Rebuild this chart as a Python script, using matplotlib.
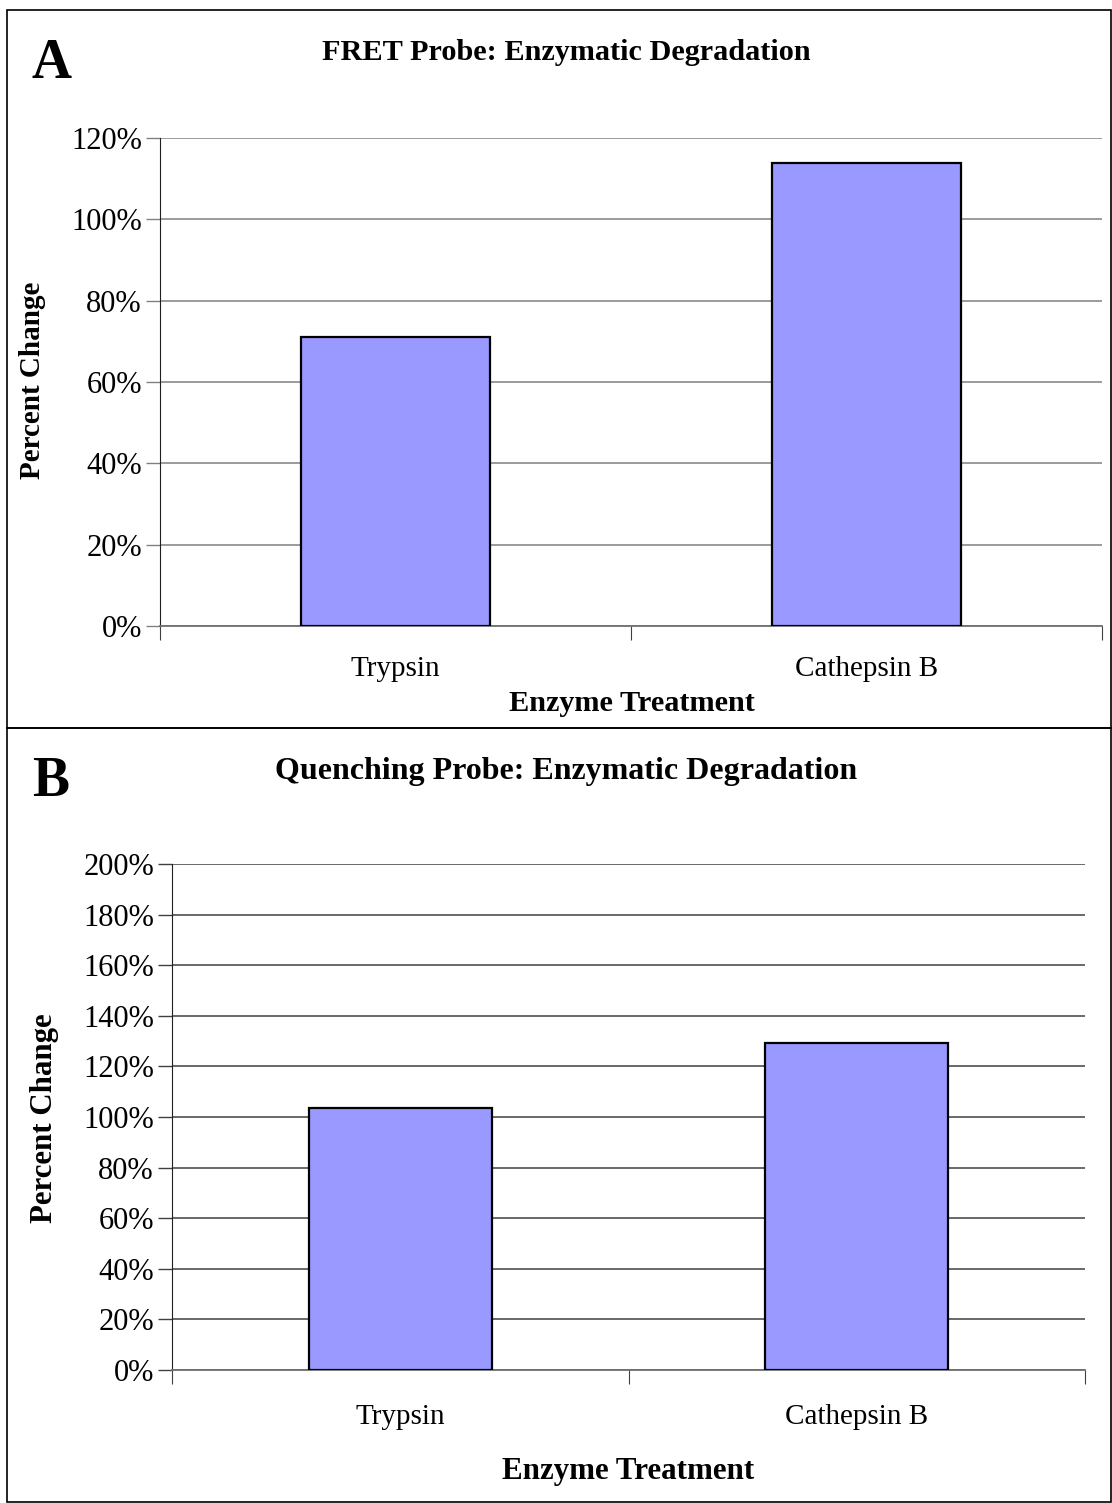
import matplotlib
matplotlib.use("Agg")
import matplotlib.pyplot as plt
import matplotlib.transforms as mtransforms
from matplotlib.patches import Rectangle
from matplotlib.ticker import PercentFormatter

categories = ["Trypsin", "Cathepsin B"]
fret_values = [71.1, 113.8]
quench_values = [103.6, 129.4]
fret_ticks = [0, 20, 40, 60, 80, 100, 120]
quench_ticks = [0, 20, 40, 60, 80, 100, 120, 140, 160, 180, 200]

plt.rcParams['font.family'] = ['Liberation Serif', 'DejaVu Serif']

W, H = 1112, 1503
fig = plt.figure(figsize=(W / 100, H / 100), dpi=100)

def fx(px):
    return px / W

def fy(py):
    return 1 - py / H

# panel borders
fig.patches.append(Rectangle((fx(7), fy(728)), fx(1104), fy(10) - fy(728),
                             transform=fig.transFigure, fill=False,
                             edgecolor='black', linewidth=1.2))
fig.patches.append(Rectangle((fx(7), fy(1502)), fx(1104), fy(728) - fy(1502),
                             transform=fig.transFigure, fill=False,
                             edgecolor='black', linewidth=1.2))

bar_color = '#9999FF'

def make_panel(rect, values, ticks, ymax, grid_color, xlab_py):
    ax = fig.add_axes(rect)
    x = list(range(len(categories)))
    ax.bar(x, values, width=0.4, color=bar_color, edgecolor='black',
           linewidth=1.6, zorder=3)
    ax.set_xlim(-0.5, len(categories) - 0.5)
    ax.set_ylim(0, ymax)
    ax.set_yticks(ticks)
    ax.yaxis.set_major_formatter(PercentFormatter(decimals=0))
    ax.yaxis.grid(True, color=grid_color, linewidth=1.1, zorder=0)
    ax.set_axisbelow(True)
    ax.set_xticks([-0.5, 0.5, 1.5])
    ax.set_xticklabels([])
    ax.tick_params(axis='x', length=10, width=0.8, color='#404040',
                   direction='out')
    ax.tick_params(axis='y', length=10, width=1.0, color=grid_color,
                   direction='out', labelsize=22, pad=3)
    for s in ['top', 'right']:
        ax.spines[s].set_visible(False)
    ax.spines['left'].set_color('#202020')
    ax.spines['left'].set_linewidth(0.8)
    ax.spines['bottom'].set_color('#707070')
    ax.spines['bottom'].set_linewidth(1.3)
    trans = mtransforms.blended_transform_factory(ax.transData, fig.transFigure)
    for i, c in enumerate(categories):
        ax.text(i, fy(xlab_py), c, transform=trans, ha='center',
                va='center', fontsize=21)
    return ax

axA = make_panel([fx(160), fy(626), fx(942), fy(138) - fy(626)],
                 fret_values, fret_ticks, 120, '#808080', 669)
axB = make_panel([fx(172), fy(1370), fx(913), fy(864) - fy(1370)],
                 quench_values, quench_ticks, 200, '#404040', 1417)

# titles, letters, axis labels (figure coords)
fig.text(fx(566), fy(53), "FRET Probe: Enzymatic Degradation", ha='center',
         va='center', fontsize=21.8, fontweight='bold')
fig.text(fx(566), fy(772), "Quenching Probe: Enzymatic Degradation",
         ha='center', va='center', fontsize=23, fontweight='bold')
fig.text(fx(52), fy(64), "A", ha='center', va='center', fontsize=40,
         fontweight='bold')
fig.text(fx(51), fy(782), "B", ha='center', va='center', fontsize=40,
         fontweight='bold')
fig.text(fx(33), fy(380), "Percent Change", ha='center', va='center',
         rotation=90, fontsize=21, fontweight='bold')
fig.text(fx(45), fy(1118), "Percent Change", ha='center', va='center',
         rotation=90, fontsize=22.2, fontweight='bold')
fig.text(fx(632), fy(704), "Enzyme Treatment", ha='center', va='center',
         fontsize=21.8, fontweight='bold')
fig.text(fx(628), fy(1471), "Enzyme Treatment", ha='center', va='center',
         fontsize=22.3, fontweight='bold')

fig.savefig("out.png", dpi=100)
